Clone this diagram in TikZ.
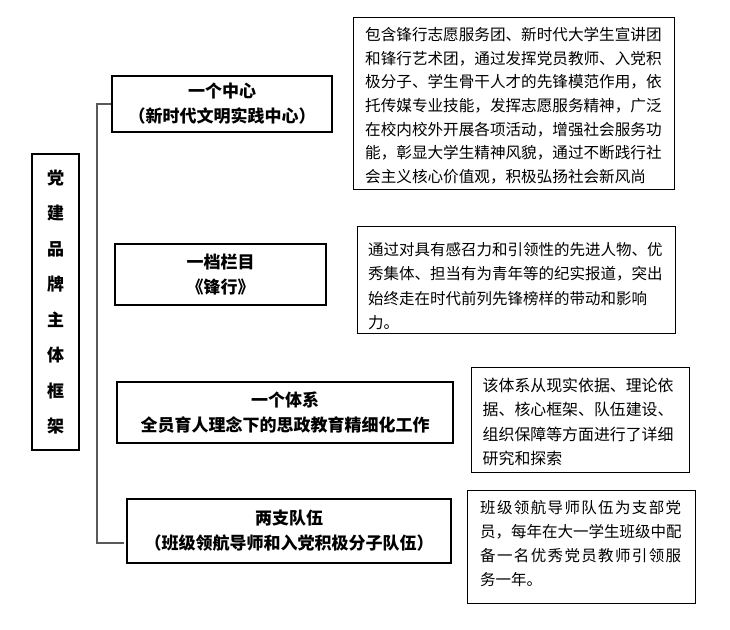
\documentclass[tikz,border=0pt]{standalone}
\usepackage{fontspec}
\newfontfamily\cjk{Noto Sans CJK SC}
\newcommand\spreadline[1]{\hbox to 201pt{#1}}
\begin{document}
\begin{tikzpicture}[x=1pt,y=-1pt,
  box/.style={draw=black, line width=1.1pt, inner sep=0pt, align=center,
    font=\cjk\bfseries\fontsize{17}{25}\selectfont},
  sidebox/.style={draw=black, line width=1.1pt, inner sep=0pt, align=center,
    font=\cjk\bfseries\fontsize{17}{35.5}\selectfont},
  descbox/.style={draw=black, line width=1pt, inner sep=0pt},
  desc/.style n args={2}{anchor=north west, inner sep=0pt, align=left,
    font=\cjk\fontsize{#1}{#2}\selectfont},
  trunk/.style={draw=black!65, line width=1.4pt}
]
\useasboundingbox (0,0) rectangle (730,629);

% left title box
\node[sidebox, minimum width=47, minimum height=296] (main) at (55.5,302)
  {党\\建\\品\\牌\\主\\体\\框\\架};

% middle boxes
\node[box, minimum width=220, minimum height=56] (b1) at (222,104)
  {一个中心\\（新时代文明实践中心）};
\node[box, minimum width=211, minimum height=61] (b2) at (220.5,274.5)
  {一档栏目\\《锋行》};
\node[box, minimum width=336, minimum height=61] (b3) at (285,412.5)
  {一个体系\\全员育人理念下的思政教育精细化工作};
\node[box, minimum width=324, minimum height=64] (b4) at (289,531)
  {两支队伍\\（班级领航导师和入党积极分子队伍）};

% right description boxes
\node[descbox, minimum width=321, minimum height=172] (r1) at (513.5,103) {};
\node[desc={15.6}{23.7}] (r1t) at (365,27)
  {包含锋行志愿服务团、新时代大学生宣讲团\\
   和锋行艺术团，通过发挥党员教师、入党积\\
   极分子、学生骨干人才的先锋模范作用，依\\
   托传媒专业技能，发挥志愿服务精神，广泛\\
   在校内校外开展各项活动，增强社会服务功\\
   能，彰显大学生精神风貌，通过不断践行社\\
   会主义核心价值观，积极弘扬社会新风尚};

\node[descbox, minimum width=318, minimum height=107] (r2) at (516,279.5) {};
\node[desc={15.5}{24.5}] (r2t) at (368,242)
  {通过对具有感召力和引领性的先进人物、优\\
   秀集体、担当有为青年等的纪实报道，突出\\
   始终走在时代前列先锋榜样的带动和影响\\
   力。};

\node[descbox, minimum width=218, minimum height=105] (r3) at (580,419.5) {};
\node[desc={15.9}{24.3}] (r3t) at (482.5,378)
  {该体系从现实依据、理论依\\
   据、核心框架、队伍建设、\\
   组织保障等方面进行了详细\\
   研究和探索};

\node[descbox, minimum width=228, minimum height=113] (r4) at (581,546.5) {};
\node[desc={15.5}{24}] (r4t) at (480,500.5)
  {\spreadline{班\hfil 级\hfil 领\hfil 航\hfil 导\hfil 师\hfil 队\hfil 伍\hfil 为\hfil 支\hfil 部\hfil 党}\\
   员，每年在大一学生班级中配\\
   \spreadline{备\hfil 一\hfil 名\hfil 优\hfil 秀\hfil 党\hfil 员\hfil 教\hfil 师\hfil 引\hfil 领\hfil 服}\\
   务一年。};

% connector
\coordinate (e4) at (124,543);
\draw[trunk] (b1.west) -- ++(-14.5,0) |- (e4);
\end{tikzpicture}
\end{document}
